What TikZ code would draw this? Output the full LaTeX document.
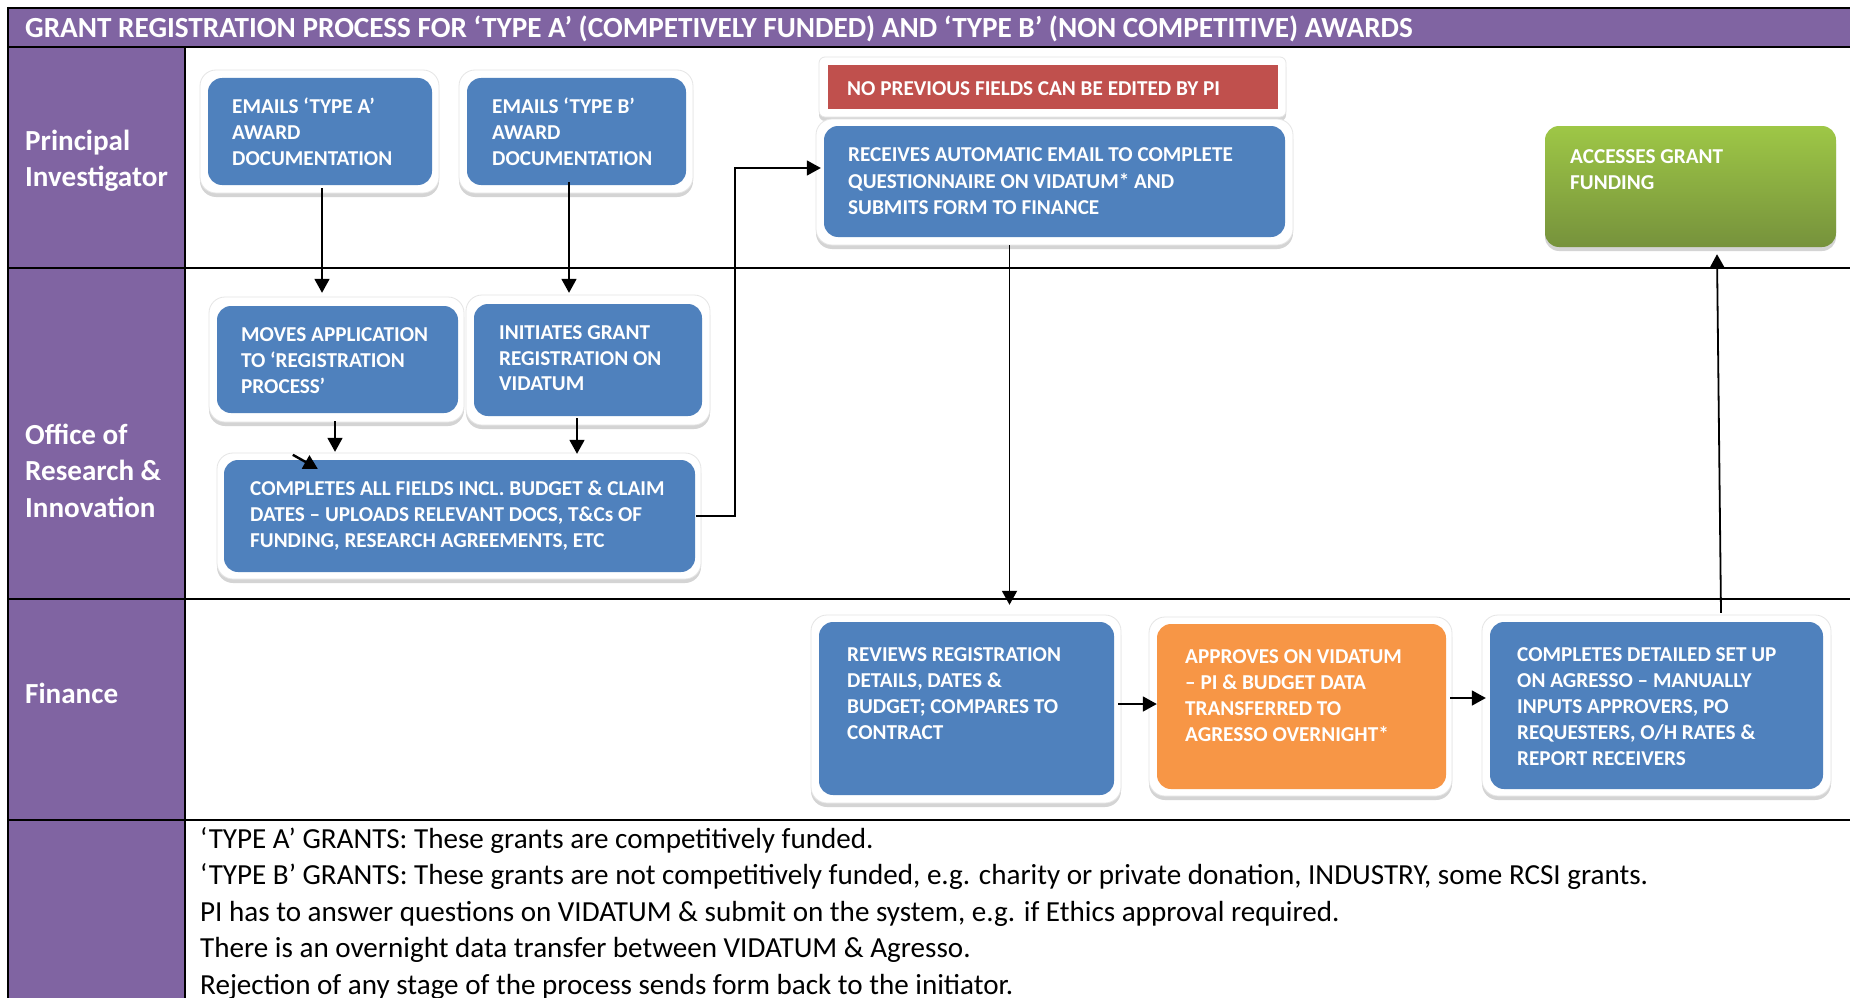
\documentclass[tikz,border=0pt]{standalone}
\usepackage{fontspec}
\setmainfont{Carlito}
\usetikzlibrary{arrows.meta,shadows}
\definecolor{lanepurple}{RGB}{128,100,162}
\definecolor{boxblue}{RGB}{79,129,189}
\definecolor{boxred}{RGB}{192,80,77}
\definecolor{boxorange}{RGB}{247,150,70}
\definecolor{greentop}{RGB}{158,199,70}
\definecolor{greenbot}{RGB}{118,146,60}
\newcommand\vlb[2]{\vtop{\baselineskip=#1\lineskiplimit=-100pt\lineskip=0pt #2}}
\begin{document}
\begin{tikzpicture}[x=1pt,y=-1pt,
  frame/.style={line width=2.2pt,black},
  halo/.style={fill=white,draw=black!10,line width=0.8pt,rounded corners=16pt,
    drop shadow={shadow xshift=0pt,shadow yshift=-4pt,opacity=0.28,fill=black!60}},
  bluebox/.style={fill=boxblue,rounded corners=14pt,inner sep=0pt,draw=none},
  orangebox/.style={fill=boxorange,rounded corners=14pt,inner sep=0pt,draw=none},
  redbox/.style={fill=boxred,inner sep=0pt,draw=none},
  greenbox/.style={top color=greentop,bottom color=greenbot,rounded corners=14pt,inner sep=0pt,draw=none,
    drop shadow={shadow xshift=0pt,shadow yshift=-4pt,opacity=0.28,fill=black!60}},
  boxtxt/.style={anchor=base west,inner sep=0pt,text=white,font=\fontsize{21.2}{26}\selectfont\bfseries},
  lanetxt/.style={anchor=base west,inner sep=0pt,text=white,font=\fontsize{29.1}{36}\selectfont\bfseries},
  foottxt/.style={anchor=base west,inner sep=0pt,text=black,font=\fontsize{29.1}{36.5}\selectfont},
  arr/.style={line width=1.8pt,-{Triangle[length=14pt,width=15pt]}},
  conn/.style={line width=1.8pt}]
\useasboundingbox (0,0) rectangle (1850,998);
\fill[white] (0,0) rectangle (1850,998);
% title bar and lane column
\fill[lanepurple] (9,8) rectangle (1850,47);
\fill[lanepurple] (9,47) rectangle (185,998);
\draw[frame] (8,8) -- (1850,8);
\draw[frame] (8,47) -- (1850,47);
\draw[frame] (8,268) -- (1850,268);
\draw[frame] (8,599) -- (1850,599);
\draw[frame] (8,820) -- (1850,820);
\draw[frame] (8,7) -- (8,998);
\draw[frame] (185,47) -- (185,998);
\node[anchor=base west,inner sep=0pt,text=white,font=\fontsize{29.2}{29}\selectfont\bfseries] (title) at (25,37.5)
  {GRANT REGISTRATION PROCESS FOR ‘TYPE A’ (COMPETIVELY FUNDED) AND ‘TYPE B’ (NON COMPETITIVE) AWARDS};
% lane labels
\node[lanetxt] (lpi) at (25,150) {\vlb{36pt}{\hbox{Principal}\hbox{Investigator}}};
\node[lanetxt] (lori) at (25,444) {\vlb{36.5pt}{\hbox{Office of}\hbox{Research \&}\hbox{Innovation}}};
\node[lanetxt] (lfin) at (25,703.5) {Finance};
% halos
\path[halo] (200,70) rectangle (439,193);
\path[halo] (459,70) rectangle (693,193);
\path[halo,rounded corners=6pt] (819,57) rectangle (1286,117);
\path[halo] (816,119) rectangle (1293,245);
\path[halo] (209,297) rectangle (464,422);
\path[halo] (466,295) rectangle (710,425);
\path[halo] (217,453) rectangle (701,579);
\path[halo] (811,615) rectangle (1121,803);
\path[halo] (1149,617) rectangle (1452,796);
\path[halo] (1482,615) rectangle (1831,796);
% boxes
\node[bluebox,minimum width=224pt,minimum height=107pt] (A) at (320,131.5) {};
\node[bluebox,minimum width=219pt,minimum height=107pt] (B) at (576.5,131.5) {};
\node[redbox,minimum width=450pt,minimum height=44pt] (R) at (1053,87) {};
\node[bluebox,minimum width=461pt,minimum height=111pt] (Q) at (1054.5,181.5) {};
\node[greenbox,minimum width=291pt,minimum height=121pt] (G) at (1690.5,186.5) {};
\node[bluebox,minimum width=241pt,minimum height=107pt] (M) at (337.5,359.5) {};
\node[bluebox,minimum width=228pt,minimum height=112pt] (I) at (588,360) {};
\node[bluebox,minimum width=471pt,minimum height=112pt] (C) at (459.5,516) {};
\node[bluebox,minimum width=295pt,minimum height=173pt] (V) at (966.5,708.5) {};
\node[orangebox,minimum width=289pt,minimum height=165pt] (P) at (1301.5,706.5) {};
\node[bluebox,minimum width=333pt,minimum height=167pt] (D) at (1656.5,705.5) {};
% box texts
\node[boxtxt] (tA) at (232,113.5) {\vlb{26pt}{\hbox{EMAILS ‘TYPE A’}\hbox{AWARD}\hbox{DOCUMENTATION}}};
\node[boxtxt] (tB) at (492,113.5) {\vlb{26pt}{\hbox{EMAILS ‘TYPE B’}\hbox{AWARD}\hbox{DOCUMENTATION}}};
\node[boxtxt] (tR) at (847,95.5) {NO PREVIOUS FIELDS CAN BE EDITED BY PI};
\node[boxtxt] (tQ) at (848,161.5) {\vlb{26.5pt}{\hbox{RECEIVES AUTOMATIC EMAIL TO COMPLETE}\hbox{QUESTIONNAIRE ON VIDATUM* AND}\hbox{SUBMITS FORM TO FINANCE}}};
\node[boxtxt] (tG) at (1570,163.5) {\vlb{26pt}{\hbox{ACCESSES GRANT}\hbox{FUNDING}}};
\node[boxtxt] (tM) at (241,341.5) {\vlb{26pt}{\hbox{MOVES APPLICATION}\hbox{TO ‘REGISTRATION}\hbox{PROCESS’}}};
\node[boxtxt] (tI) at (499,339.5) {\vlb{25.5pt}{\hbox{INITIATES GRANT}\hbox{REGISTRATION ON}\hbox{VIDATUM}}};
\node[boxtxt] (tC) at (250,495.5) {\vlb{26pt}{\hbox{COMPLETES ALL FIELDS INCL. BUDGET \& CLAIM}\hbox{DATES – UPLOADS RELEVANT DOCS, T\&Cs OF}\hbox{FUNDING, RESEARCH AGREEMENTS, ETC}}};
\node[boxtxt] (tV) at (847,661.5) {\vlb{26pt}{\hbox{REVIEWS REGISTRATION}\hbox{DETAILS, DATES \&}\hbox{BUDGET; COMPARES TO}\hbox{CONTRACT}}};
\node[boxtxt] (tP) at (1185,663.5) {\vlb{26pt}{\hbox{APPROVES ON VIDATUM}\hbox{– PI \& BUDGET DATA}\hbox{TRANSFERRED TO}\hbox{AGRESSO OVERNIGHT*}}};
\node[boxtxt] (tD) at (1517,661.5) {\vlb{26pt}{\hbox{COMPLETES DETAILED SET UP}\hbox{ON AGRESSO – MANUALLY}\hbox{INPUTS APPROVERS, PO}\hbox{REQUESTERS, O/H RATES \&}\hbox{REPORT RECEIVERS}}};
% footer notes
\node[foottxt] (notes) at (200,848) {\vlb{36.5pt}{%
  \hbox{‘TYPE A’ GRANTS: These grants are competitively funded.}%
  \hbox{‘TYPE B’ GRANTS: These grants are not competitively funded, e.g. charity or private donation, INDUSTRY, some RCSI grants.}%
  \hbox{PI has to answer questions on VIDATUM \& submit on the system, e.g. if Ethics approval required.}%
  \hbox{There is an overnight data transfer between VIDATUM \& Agresso.}%
  \hbox{Rejection of any stage of the process sends form back to the initiator.}}};
% connectors
\draw[arr] ([xshift=2pt,yshift=-3pt]A.south) -- ([xshift=-15.5pt,yshift=13pt]M.north);
\draw[arr] ([xshift=-7.5pt,yshift=3pt]B.south) -- ([xshift=-19pt,yshift=11pt]I.north);
\draw[arr] ([xshift=-2.5pt,yshift=-8pt]M.south) -- ([xshift=-124.5pt,yshift=8pt]C.north);
\draw[arr] ([xshift=-11pt,yshift=-2pt]I.south) -- ([xshift=117.5pt,yshift=6pt]C.north);
\draw[arr,line width=2.4pt] ([xshift=69pt,yshift=5pt]C.north west) -- ([xshift=94pt,yshift=-9pt]C.north west);
\draw[arr] ([xshift=1pt]C.east) -- ++(39,0) |- ([xshift=-3pt,yshift=13.5pt]Q.west);
\draw[arr] ([xshift=-45pt,yshift=-8pt]Q.south) -- ([xshift=43pt,yshift=17pt]V.north);
\draw[arr] ([xshift=4pt,yshift=4.5pt]V.east) -- ([yshift=2.5pt]P.west);
\draw[arr] ([xshift=4pt,yshift=8.5pt]P.east) -- ([xshift=-4pt,yshift=7.5pt]D.west);
\draw[arr] ([xshift=64.5pt,yshift=9pt]D.north) -- ([xshift=26.5pt,yshift=-7pt]G.south);
\end{tikzpicture}
\end{document}
